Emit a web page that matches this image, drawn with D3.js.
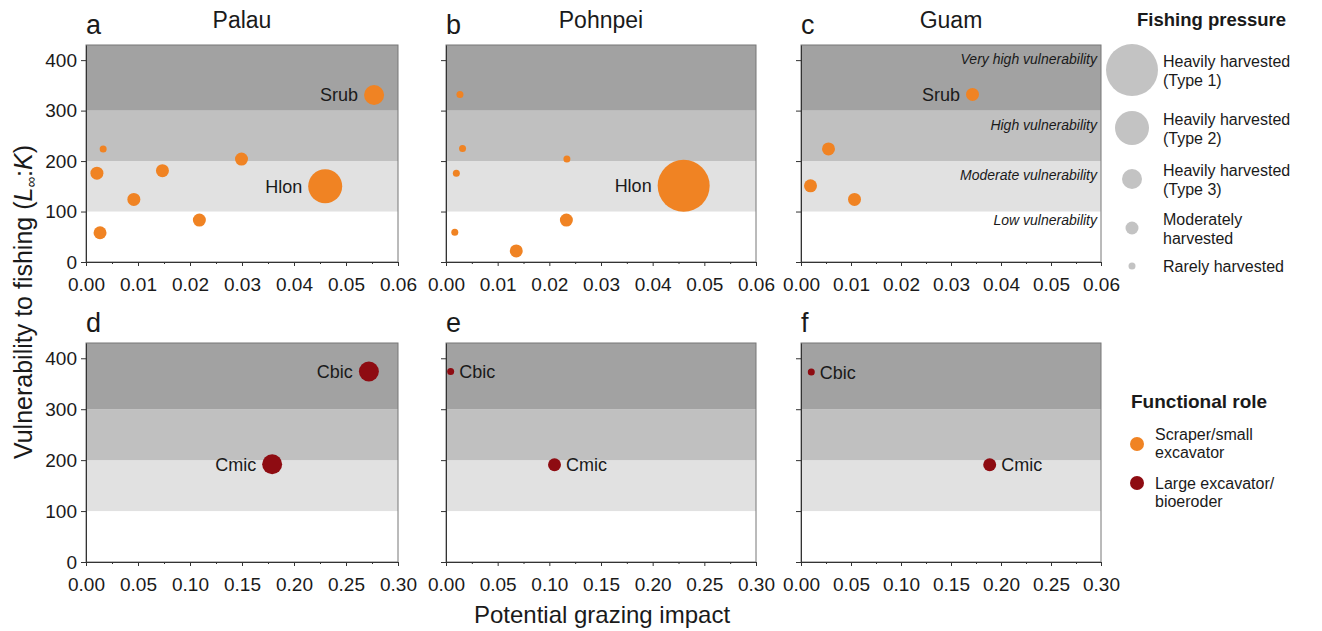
<!DOCTYPE html>
<html>
<head>
<meta charset="utf-8">
<script src="https://cdn.jsdelivr.net/npm/d3@7/dist/d3.min.js"></script>
<style>
  body { margin: 0; background: #fff; }
  text { font-family: "Liberation Sans", Arial, sans-serif; fill: #1a1a1a; }
</style>
</head>
<body>
<div id="chart"></div>
<script>
// ---- data ----
var sites = ["Palau", "Pohnpei", "Guam"];
var panelLetters = ["a", "b", "c", "d", "e", "f"];

var yTicks = [0, 100, 200, 300, 400];
var scraperTicks = [0, 0.01, 0.02, 0.03, 0.04, 0.05, 0.06];
var excavatorTicks = [0, 0.05, 0.10, 0.15, 0.20, 0.25, 0.30];

var bandLow = [0, 100, 200, 300];
var bandHigh = [100, 200, 300, 430];
var bandNames = ["Low vulnerability", "Moderate vulnerability", "High vulnerability", "Very high vulnerability"];

var pressureLevels = ["Type 1", "Type 2", "Type 3", "Moderate", "Rare"];
var pressureLabels = [
    ["Heavily harvested", "(Type 1)"],
    ["Heavily harvested", "(Type 2)"],
    ["Heavily harvested", "(Type 3)"],
    ["Moderately", "harvested"],
    ["Rarely harvested"]
];

var roleNames = ["Scraper/small excavator", "Large excavator/bioeroder"];
var roleLabels = [["Scraper/small", "excavator"], ["Large excavator/", "bioeroder"]];

// x = potential grazing impact, y = L∞:K, p = fishing pressure
var palauScrapers = [
    {x: 0.0021, y: 176, p: "Moderate", name: ""},
    {x: 0.0033, y: 224, p: "Rare", name: ""},
    {x: 0.0027, y: 58, p: "Moderate", name: ""},
    {x: 0.0092, y: 124, p: "Moderate", name: ""},
    {x: 0.0147, y: 181, p: "Moderate", name: ""},
    {x: 0.0218, y: 83, p: "Moderate", name: ""},
    {x: 0.0299, y: 204, p: "Moderate", name: ""},
    {x: 0.0460, y: 150, p: "Type 2", name: "Hlon"},
    {x: 0.0554, y: 331, p: "Type 3", name: "Srub"}
];
var pohnpeiScrapers = [
    {x: 0.0027, y: 332, p: "Rare", name: ""},
    {x: 0.0032, y: 225, p: "Rare", name: ""},
    {x: 0.0020, y: 176, p: "Rare", name: ""},
    {x: 0.0017, y: 59, p: "Rare", name: ""},
    {x: 0.0234, y: 204, p: "Rare", name: ""},
    {x: 0.0233, y: 83, p: "Moderate", name: ""},
    {x: 0.0136, y: 22, p: "Moderate", name: ""},
    {x: 0.0460, y: 151, p: "Type 1", name: "Hlon"}
];
var guamScrapers = [
    {x: 0.0343, y: 332, p: "Moderate", name: "Srub"},
    {x: 0.0055, y: 224, p: "Moderate", name: ""},
    {x: 0.0019, y: 151, p: "Moderate", name: ""},
    {x: 0.0107, y: 124, p: "Moderate", name: ""}
];
var palauExcavators = [
    {x: 0.272, y: 374, p: "Type 3", name: "Cbic"},
    {x: 0.179, y: 192, p: "Type 3", name: "Cmic"}
];
var pohnpeiExcavators = [
    {x: 0.0045, y: 374, p: "Rare", name: "Cbic"},
    {x: 0.105, y: 191, p: "Moderate", name: "Cmic"}
];
var guamExcavators = [
    {x: 0.0103, y: 373, p: "Rare", name: "Cbic"},
    {x: 0.1887, y: 191, p: "Moderate", name: "Cmic"}
];

// ---- layout ----
var svgWidth = 1322, svgHeight = 631;
var colX = [[86, 398], [446, 756], [801, 1101]];
var rowY = [[45, 262], [343, 562]];
var labelSide = [["left", "left"], ["left"], ["left"], ["left", "left"], ["right", "right"], ["right", "right"]];

var svg = d3.select("#chart").append("svg")
    .attr("width", svgWidth)
    .attr("height", svgHeight);

var bandColor = d3.scaleOrdinal().domain(bandNames).range(["#ffffff", "#e1e1e1", "#c0c0c0", "#a2a2a2"]);
var roleColor = d3.scaleOrdinal().domain(roleNames).range(["#f08323", "#8e0c12"]);
var radius = d3.scaleOrdinal().domain(pressureLevels).range([26, 17, 10, 6.5, 3.5]);

var panelData = [palauScrapers, pohnpeiScrapers, guamScrapers, palauExcavators, pohnpeiExcavators, guamExcavators];

panelData.forEach(function(points, i) {
    var row = Math.floor(i / 3), col = i % 3;
    var ticks = row === 0 ? scraperTicks : excavatorTicks;
    var x = d3.scaleLinear().domain([0, row === 0 ? 0.06 : 0.30]).range(colX[col]);
    var y = d3.scaleLinear().domain([0, 430]).range([rowY[row][1], rowY[row][0]]);
    var g = svg.append("g");

    // vulnerability bands
    g.selectAll("rect.band")
        .data(bandNames)
        .enter().append("rect")
        .attr("class", "band")
        .attr("x", x(0))
        .attr("width", x.range()[1] - x.range()[0])
        .attr("y", (d, k) => y(bandHigh[k]))
        .attr("height", (d, k) => y(bandLow[k]) - y(bandHigh[k]))
        .attr("fill", d => bandColor(d));

    g.append("rect")
        .attr("x", x.range()[0])
        .attr("y", y(430))
        .attr("width", x.range()[1] - x.range()[0])
        .attr("height", y(0) - y(430))
        .attr("fill", "none")
        .attr("stroke", "#777")
        .attr("stroke-width", 1);

    if (i === 2) {
        g.selectAll("text.band")
            .data(bandNames)
            .enter().append("text")
            .attr("class", "band")
            .attr("x", x.range()[1] - 4)
            .attr("y", (d, k) => y(bandHigh[k]) + (k === 0 ? 13 : 19))
            .attr("text-anchor", "end")
            .attr("font-size", 14)
            .attr("font-style", "italic")
            .text(d => d);
    }

    // minor ticks half way between the labelled ones
    var minor = d3.pairs(ticks).map(p => (p[0] + p[1]) / 2);
    var xMinor = d3.axisBottom(x).tickValues(minor).tickSize(2).tickSizeOuter(0).tickFormat("");
    var xAxis = d3.axisBottom(x)
        .tickValues(ticks)
        .tickFormat(d3.format(".2f"))
        .tickSize(4).tickSizeOuter(0).tickPadding(12);
    var yAxis = d3.axisLeft(y)
        .tickValues(yTicks)
        .tickSize(5).tickSizeOuter(0).tickPadding(4)
        .tickFormat(col === 0 ? d3.format("d") : "");

    var mg = g.append("g").attr("transform", `translate(0,${y(0)})`).call(xMinor);
    var xg = g.append("g").attr("transform", `translate(0,${y(0)})`).call(xAxis);
    var yg = g.append("g").attr("transform", `translate(${x(0)},0)`).call(yAxis);
    [mg, xg, yg].forEach(function(a) {
        a.select(".domain").attr("stroke", "#333");
        a.selectAll(".tick line").attr("stroke", "#333");
        a.selectAll(".tick text").attr("font-size", 19).attr("fill", "#222")
            .attr("font-family", "'Liberation Sans', Arial, sans-serif");
    });

    // points
    var role = row === 0 ? roleNames[0] : roleNames[1];
    var sorted = points.slice().sort((a, b) => radius(b.p) - radius(a.p));
    g.selectAll("circle.pt")
        .data(sorted)
        .enter().append("circle")
        .attr("class", "pt")
        .attr("cx", d => x(d.x))
        .attr("cy", d => y(d.y))
        .attr("r", d => radius(d.p))
        .attr("fill", roleColor(role));

    var named = points.filter(d => d.name !== "");
    g.selectAll("text.pt")
        .data(named)
        .enter().append("text")
        .attr("class", "pt")
        .attr("x", (d, k) => labelSide[i][k] === "left" ? x(d.x) - radius(d.p) - 6 : x(d.x) + radius(d.p) + 5)
        .attr("y", d => y(d.y))
        .attr("dy", "0.36em")
        .attr("text-anchor", (d, k) => labelSide[i][k] === "left" ? "end" : "start")
        .attr("font-size", 18)
        .text(d => d.name);

    // panel letter and site title
    g.append("text")
        .attr("x", x.range()[0])
        .attr("y", rowY[row][0] - 11)
        .attr("font-size", 27)
        .text(panelLetters[i]);
    if (row === 0) {
        g.append("text")
            .attr("x", (x.range()[0] + x.range()[1]) / 2)
            .attr("y", 28)
            .attr("text-anchor", "middle")
            .attr("font-size", 23)
            .text(sites[col]);
    }
});

// axis titles
var yTitle = svg.append("text")
    .attr("transform", "translate(32,302) rotate(-90)")
    .attr("text-anchor", "middle")
    .attr("font-size", 25);
yTitle.append("tspan").text("Vulnerability to fishing (");
yTitle.append("tspan").attr("font-style", "italic").text("L");
yTitle.append("tspan").attr("font-size", 15).attr("dy", 4).text("∞");
yTitle.append("tspan").attr("dy", -4).text(":");
yTitle.append("tspan").attr("font-style", "italic").text("K");
yTitle.append("tspan").text(")");

svg.append("text")
    .attr("x", 602)
    .attr("y", 623)
    .attr("text-anchor", "middle")
    .attr("font-size", 24)
    .text("Potential grazing impact");

// fishing pressure legend
var legend = svg.append("g");
legend.append("text")
    .attr("x", 1137).attr("y", 26)
    .attr("font-size", 18.5).attr("font-weight", "bold")
    .text("Fishing pressure");
var legendY = d3.scaleOrdinal().domain(pressureLevels).range([70, 128, 179, 228, 266]);
var items = legend.selectAll("g.item")
    .data(pressureLevels)
    .enter().append("g")
    .attr("class", "item")
    .attr("transform", d => `translate(0,${legendY(d)})`);
items.append("circle")
    .attr("cx", 1132)
    .attr("r", d => radius(d))
    .attr("fill", "#c3c3c3");
items.each(function(d, k) {
    var lines = pressureLabels[k];
    d3.select(this).selectAll("text")
        .data(lines)
        .enter().append("text")
        .attr("x", 1163)
        .attr("y", (t, j) => lines.length === 1 ? 5.5 : -3.5 + j * 19)
        .attr("font-size", 16)
        .text(t => t);
});

// functional role legend
legend.append("text")
    .attr("x", 1131).attr("y", 408)
    .attr("font-size", 19).attr("font-weight", "bold")
    .text("Functional role");
var roleY = d3.scaleOrdinal().domain(roleNames).range([444, 483]);
var roleTextDy = [[-4, 14], [6, 24]];
roleNames.forEach(function(r, k) {
    legend.append("circle")
        .attr("cx", 1137).attr("cy", roleY(r))
        .attr("r", 7)
        .attr("fill", roleColor(r));
    roleLabels[k].forEach(function(t, j) {
        legend.append("text")
            .attr("x", 1155)
            .attr("y", roleY(r) + roleTextDy[k][j])
            .attr("font-size", 16)
            .text(t);
    });
});
</script>
</body>
</html>
